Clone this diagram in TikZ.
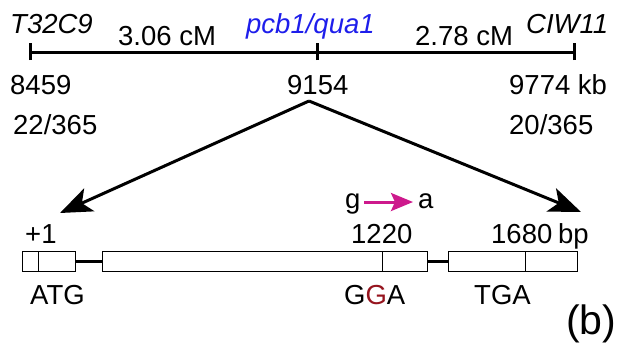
\documentclass[tikz,border=0pt]{standalone}
\usepackage{fontspec}
\setmainfont{Liberation Sans}
\usetikzlibrary{arrows.meta}
\definecolor{locusblue}{RGB}{30,30,235}
\definecolor{mutmag}{RGB}{205,25,140}
\definecolor{mutred}{RGB}{150,20,30}
\begin{document}
\begin{tikzpicture}[x=1pt,y=-1pt,
  lbl/.style={inner sep=0pt,anchor=base west,font=\fontsize{27.5}{29}\selectfont},
  map/.style={line width=3pt},
  exon/.style={draw,line width=1.4pt,fill=white,rectangle,inner sep=0pt,minimum height=20pt,anchor=north west},
  intron/.style={line width=3pt},
  divider/.style={line width=1pt},
  zoomarrow/.style={line width=3pt,-{Stealth[length=32pt,width=25pt,inset=8pt]}}]
\useasboundingbox (0,0) rectangle (618,348);
% map line
\coordinate (mL) at (30,52);
\coordinate (mM) at (317,52);
\coordinate (mR) at (574,52);
\draw[map] (mL) -- (mR);
\draw[map] ([yshift=-8pt]mL) -- ([yshift=9pt]mL);
\draw[map] ([yshift=-8pt]mM) -- ([yshift=9pt]mM);
\draw[map] ([yshift=-8pt]mR) -- ([yshift=9pt]mR);
% top labels
\node[lbl,font=\fontsize{27.5}{29}\selectfont\itshape] (t32) at (10,33) {T32C9};
\node[lbl] (d1) at (118,45) {3.06 cM};
\node[lbl,font=\fontsize{27.5}{29}\selectfont\itshape,text=locusblue] (pcb) at (246,33) {pcb1/qua1};
\node[lbl] (d2) at (415,45) {2.78 cM};
\node[lbl,font=\fontsize{27.5}{29}\selectfont\itshape] (ciw) at (526,33) {CIW11};
\node[lbl] (p1) at (10,94) {8459};
\node[lbl] (p2) at (287,94) {9154};
\node[lbl] (p3) at (509,94) {9774 kb};
\node[lbl] (r1) at (13,134) {22/365};
\node[lbl] (r2) at (509,134) {20/365};
% zoom arrows
\coordinate (apex) at (309,101);
\coordinate (tipL) at (60,213);
\coordinate (tipR) at (581,212);
\draw[zoomarrow] (apex) -- (tipL);
\draw[zoomarrow] (apex) -- (tipR);
% gene structure
\node[exon,minimum width=53pt] (e1) at (22,251) {};
\node[exon,minimum width=325pt] (e2) at (102,251) {};
\node[exon,minimum width=129pt] (e3) at (448,251) {};
\draw[intron] (e1.east) -- (e2.west);
\draw[intron] (e2.east) -- (e3.west);
\draw[divider] (38,251) -- (38,271);
\draw[divider] (382,251) -- (382,271);
\draw[divider] (525,251) -- (525,271);
% gene labels
\node[lbl] (plus1) at (25,243) {+1};
\node[lbl] (n1220) at (351,243) {1220};
\node[lbl] (n1680) at (491,243) {1680};
\node[lbl] (bp) at (558,243) {bp};
\node[lbl] (atg) at (30,304) {ATG};
\node[lbl] (gga) at (344,304) {G\textcolor{mutred}{G}A};
\node[lbl] (tga) at (474,304) {TGA};
% mutation
\node[lbl] (g) at (345,208) {g};
\node[lbl] (a) at (418,208) {a};
\draw[mutmag,line width=3pt,-{Stealth[length=22pt,width=18pt,inset=4pt]}] (364,202) -- (413,202);
% panel label
\node[lbl,font=\fontsize{41}{43}\selectfont] (b) at (566,334) {(b)};
\end{tikzpicture}
\end{document}
